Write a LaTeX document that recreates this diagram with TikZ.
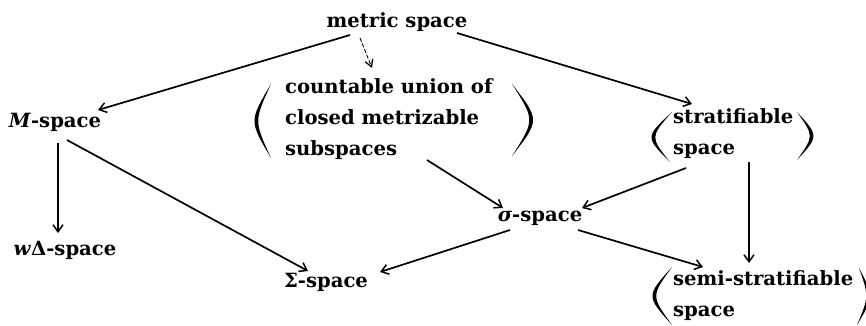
\documentclass[tikz,border=0pt]{standalone}
\usepackage{fontspec}
\setmainfont{DejaVu Serif}
\usetikzlibrary{arrows.meta,calc}
\tikzset{
 lbl/.style={font=\fontsize{19.6}{31}\selectfont\bfseries, inner sep=0pt},
 arr/.style={line width=1.7pt, -{Straight Barb[length=7pt,width=10pt,line width=1.5pt]}},
 darr/.style={line width=0.9pt, dash pattern=on 4pt off 2pt, -{Straight Barb[length=7pt,width=8pt,line width=1.3pt]}},
}
\newcommand{\crsc}[4]{\fill (#1) .. controls ($(#1)!0.5!(#2)+(#3,0)$) .. (#2) .. controls ($(#1)!0.5!(#2)+(#4,0)$) .. (#1) -- cycle;}
\begin{document}
\begin{tikzpicture}[x=1pt,y=-1pt]
\useasboundingbox (0,0) rectangle (866,326);
% nodes
\node[lbl] (metric) at (397,22) {metric space};
\node[lbl] (M) at (55,122) {\textit{M}-space};
\node[lbl] (wD) at (65,250) {\textit{w}Δ-space};
\node[lbl] (Sig) at (326,282) {Σ-space};
\node[lbl] (sig) at (540,218) {\textit{σ}-space};
\node[lbl,align=left,anchor=west] (cu) at (285,119) {countable union of\\closed metrizable\\subspaces};
\node[lbl,align=left,anchor=west] (st) at (673,134) {stratifiable\\space};
\node[lbl,align=left,anchor=west] (se) at (673,296) {semi-stratifiable\\space};
% parentheses
\crsc{271,84}{271,158}{-22}{-17}
\crsc{512,84}{512,156}{28}{23}
\crsc{672,112}{670,162}{-26}{-21}
\crsc{797,112}{797,160}{22}{17}
\crsc{672,267}{672,325}{-26}{-21}
\crsc{859,268}{857,325}{16}{11}
% connectors
\draw[arr] ($(metric)+(-47,13)$) -- ($(M)+(43,-12)$);
\draw[darr] ($(metric)+(-37,16)$) -- ($(cu.west)+(87,-51)$);
\draw[arr] ($(metric)+(60,11)$) -- ($(st.west)+(19,-30)$);
\draw[arr] ($(M)+(3,21)$) -- ($(wD)+(-7,-17)$);
\draw[arr] ($(M)+(12,18)$) -- ($(Sig)+(-18,-11)$);
\draw[arr] ($(cu.west)+(142,41)$) -- ($(sig)+(-37,-10)$);
\draw[arr] ($(st.west)+(13,34)$) -- ($(sig)+(42,-10)$);
\draw[arr] ($(st.west)+(76,28)$) -- ($(se.west)+(76,-33)$);
\draw[arr] ($(sig)+(-30,12)$) -- ($(Sig)+(54,-10)$);
\draw[arr] ($(sig)+(38,12)$) -- ($(se.west)+(30,-29)$);
\end{tikzpicture}
\end{document}
